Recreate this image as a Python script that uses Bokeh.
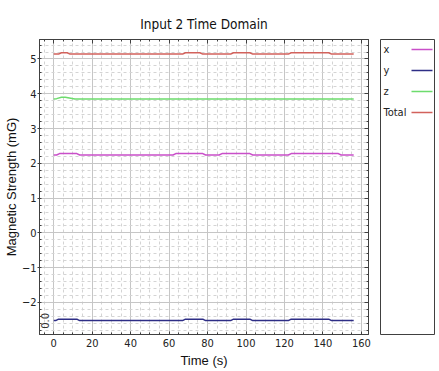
import math
from bokeh.plotting import figure
from bokeh.models import Range1d, FixedTicker, LinearAxis, Label, CustomJSTickFormatter
from bokeh.layouts import row
from bokeh.core.properties import value
from bokeh.embed import file_html
from bokeh.resources import INLINE

# ---- data (breakpoints) ----
series_names = ["x", "y", "z", "Total"]
series_colors = ["#c94fc9", "#2e2e86", "#6ddc6d", "#d2625c"]

t_x = [0, 1.5, 3, 12, 13.5, 62, 63.5, 77.5, 79, 86, 87.5, 102, 103.5, 122, 123.5, 148, 149.5, 156]
v_x = [2.24, 2.24, 2.28, 2.28, 2.24, 2.24, 2.28, 2.28, 2.24, 2.24, 2.28, 2.28, 2.24, 2.24, 2.28, 2.28, 2.24, 2.24]

t_y = [0, 1, 2.5, 12, 13.5, 67, 68.5, 77.5, 79, 92, 93.5, 102, 103.5, 122, 123.5, 143, 144.5, 156]
v_y = [-2.52, -2.52, -2.48, -2.48, -2.52, -2.52, -2.48, -2.48, -2.52, -2.52, -2.48, -2.48, -2.52, -2.52, -2.48, -2.48, -2.52, -2.52]

t_z = [0, 1.5, 4, 6, 11, 156]
v_z = [3.85, 3.86, 3.90, 3.90, 3.85, 3.85]

t_total = [0, 2.5, 4, 7, 8.5, 67, 68.5, 76, 77.5, 92, 93.5, 102, 103.5, 122, 123.5, 143, 144.5, 156]
v_total = [5.14, 5.14, 5.18, 5.18, 5.14, 5.14, 5.18, 5.18, 5.14, 5.14, 5.18, 5.18, 5.14, 5.14, 5.18, 5.18, 5.14, 5.14]

x_major = [0, 20, 40, 60, 80, 100, 120, 140, 160]
x_minor = [-5] + [m + d for m in x_major for d in (5, 10, 15)]
y_major = [-2, -1, 0, 1, 2, 3, 4, 5]
y_minor = [round(-2.8 + 0.2 * i, 1) for i in range(42)]

FONT = "Liberation Sans"
NARROW = "'Liberation Sans Narrow', 'DejaVu Sans Condensed', 'Liberation Sans'"
FRAME = "#404040"

p = figure(width=378, height=371,
           x_range=Range1d(-7.4, 163.7), y_range=Range1d(-2.92, 5.56),
           output_backend="svg", toolbar_location=None,
           title="Input 2 Time Domain",
           min_border_left=38, min_border_right=10,
           min_border_top=39, min_border_bottom=37)
p.title.align = "center"
p.title.vertical_align = "top"
p.title.text_font = NARROW
p.title.text_font_style = "normal"
p.title.text_font_size = "13.5px"
p.title.text_color = "#111111"
p.title.standoff = 12
p.outline_line_color = FRAME
p.background_fill_color = "white"
p.border_fill_color = "white"

xt = FixedTicker(ticks=x_major, minor_ticks=x_minor)
yt = FixedTicker(ticks=y_major, minor_ticks=y_minor)

p.xaxis.ticker = xt
p.yaxis.ticker = yt
for ax in (p.xaxis[0], p.yaxis[0]):
    ax.axis_line_color = FRAME
    ax.major_tick_line_color = FRAME
    ax.minor_tick_line_color = FRAME
    ax.major_label_text_font = NARROW
    ax.major_label_text_font_size = "11px"
    ax.major_label_text_color = "#222222"
    ax.axis_label_text_font = FONT
    ax.axis_label_text_font_size = "13px"
    ax.axis_label_text_font_style = "normal"
    ax.axis_label_text_color = "#111111"
    ax.major_tick_in = 0
    ax.major_tick_out = 2
    ax.minor_tick_in = 2
    ax.minor_tick_out = 0
    ax.major_label_standoff = 1
    ax.axis_label_standoff = 0
p.xaxis.axis_label = "Time (s)"
p.yaxis.axis_label = "Magnetic Strength (mG)"
p.xaxis.major_tick_in = 3
p.xaxis.major_tick_out = 0
p.xaxis.major_label_standoff = 4
p.xaxis.axis_label_standoff = 3

blank = CustomJSTickFormatter(code="return ''")
for loc, tk in (("above", xt), ("right", yt)):
    ax = LinearAxis(ticker=tk, formatter=blank,
                    major_tick_in=4, major_tick_out=0,
                    minor_tick_in=2, minor_tick_out=0,
                    major_label_text_font_size="0px", major_label_standoff=0,
                    axis_line_color=FRAME, major_tick_line_color=FRAME,
                    minor_tick_line_color=FRAME)
    p.add_layout(ax, loc)

p.xgrid.ticker = xt
p.ygrid.ticker = yt
for g in (p.xgrid[0], p.ygrid[0]):
    g.grid_line_color = "#c6c6c6"
    g.grid_line_width = 1
    g.minor_grid_line_color = "#d4d4d4"
    g.minor_grid_line_dash = "3 3"

lw = 1.5
p.line(t_x, v_x, color=series_colors[0], line_width=lw)
p.line(t_y, v_y, color=series_colors[1], line_width=lw)
p.line(t_z, v_z, color=series_colors[2], line_width=lw)
p.line(t_total, v_total, color=series_colors[3], line_width=lw)

p.add_layout(Label(x=-4.3, y=-2.53, text="0.0", angle=math.pi / 2,
                   text_font=NARROW, text_font_size="11px", text_color="#333333",
                   text_align="center", text_baseline="middle"))

# ---- legend panel ----
lg = figure(width=61, height=371, x_range=Range1d(0, 54), y_range=Range1d(295, 0),
            output_backend="svg", toolbar_location=None,
            x_axis_type=None, y_axis_type=None,
            min_border_left=2, min_border_right=5,
            min_border_top=39, min_border_bottom=37)
lg.grid.visible = False
lg.outline_line_color = FRAME
lg.background_fill_color = "white"
lg.border_fill_color = "white"
rows_y = [10 + 21 * i for i in range(len(series_names))]
lg.text(x=[3] * len(series_names), y=rows_y, text=series_names,
        text_font=value(NARROW), text_font_size="11px", text_color="#222222",
        text_baseline="middle", text_align="left")
lg.segment(x0=[31] * len(series_names), x1=[52] * len(series_names),
           y0=rows_y, y1=rows_y, line_color=series_colors, line_width=1.3)

layout = row(p, lg)
open("out.html", "w").write(file_html(layout, INLINE))
